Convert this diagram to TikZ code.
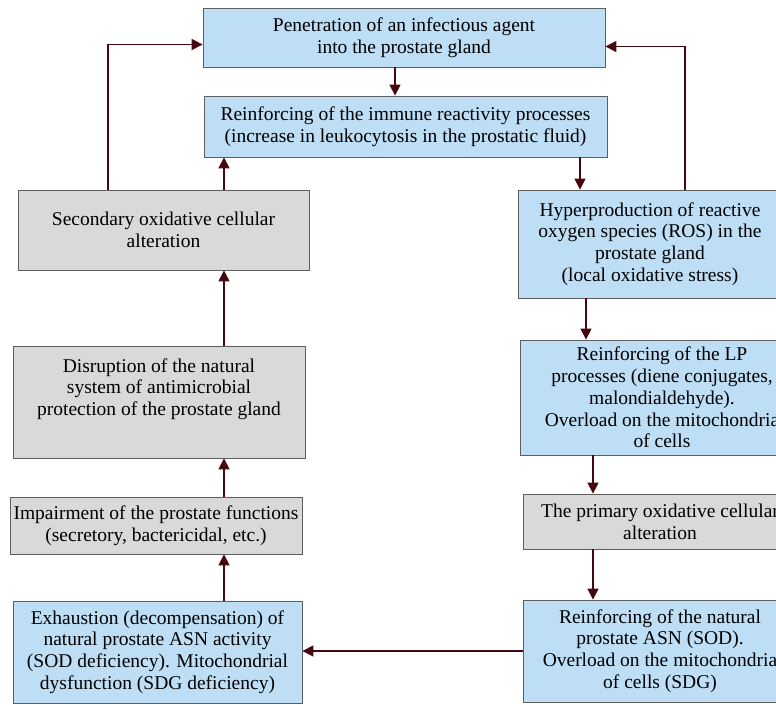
\documentclass[tikz,border=0pt]{standalone}
\usepackage{fontspec}
\setmainfont{Liberation Serif}
\usepackage{tikz}
\usetikzlibrary{arrows.meta,positioning}
\usepackage{xcolor}
\definecolor{pgblue}{RGB}{190,222,245}
\definecolor{pggray}{RGB}{217,217,217}
\definecolor{pgedge}{RGB}{95,95,95}
\definecolor{pgmaroon}{RGB}{70,8,14}
\tikzstyle{arrow} = [line width=1.4pt,-{Triangle[length=11pt,width=11pt]},color=pgmaroon]
\tikzstyle{bluebox} = [draw=pgedge,line width=0.8pt,fill=pgblue,align=center,inner sep=2pt,font=\fontsize{19.5}{21.8}\selectfont]
\tikzstyle{graybox} = [bluebox,fill=pggray]

\begin{document}
\begin{tikzpicture}[x=1pt,y=-1pt]
\useasboundingbox (0,0) rectangle (776,704);
\clip (0,0) rectangle (776,704);

% Top boxes
\node[bluebox, minimum width=402pt, minimum height=59pt] (pen) at (404,37.5) {Penetration of an infectious agent\\into the prostate gland};
\node[bluebox, minimum width=403pt, minimum height=61pt] (imm) at (405.5,126.5) {Reinforcing of the immune reactivity processes\\(increase in leukocytosis in the prostatic fluid)};

% Left column
\node[graybox, minimum width=291pt, minimum height=80pt] (sec) at (163.5,230) {Secondary oxidative cellular\\alteration};
\node[graybox, minimum width=292pt, minimum height=112pt] (dis) at (159,402) {Disruption of the natural\\system of antimicrobial\\protection of the prostate gland\\[8pt]};
\node[graybox, minimum width=292pt, minimum height=57pt] (imp) at (156,525.5) {Impairment of the prostate functions\\(secretory, bactericidal, etc.)};
\node[bluebox, minimum width=289pt, minimum height=102pt] (exh) at (157.5,652) {Exhaustion (decompensation) of\\natural prostate ASN activity\\(SOD deficiency). Mitochondrial\\dysfunction (SDG deficiency)};

% Right column (cut off at the right edge)
\node[bluebox, minimum width=264pt, minimum height=108pt] (hyp) at (650,244) {Hyperproduction of reactive\\oxygen species (ROS) in the\\prostate gland\\(local oxidative stress)};
\node[bluebox, minimum width=284pt, minimum height=115pt] (lp) at (662,397.5) {Reinforcing of the LP\\processes (diene conjugates,\\malondialdehyde).\\Overload on the mitochondria\\of cells};
\node[graybox, minimum width=274pt, minimum height=55pt] (pri) at (660,521.5) {The primary oxidative cellular\\alteration};
\node[bluebox, minimum width=274pt, minimum height=102pt] (asn) at (660,651) {Reinforcing of the natural\\prostate ASN (SOD).\\Overload on the mitochondria\\of cells (SDG)};

% Spines
\coordinate (xmid) at (395,0);
\coordinate (xleft) at (224,0);
\coordinate (xloopl) at (108,0);
\coordinate (xloopr) at (685,0);
\coordinate (xdown) at (580,0);
\coordinate (xhyp) at (586,0);
\coordinate (xlp) at (593,0);

% Connectors
\draw[arrow] (pen.south -| xmid) -- (imm.north -| xmid);
\draw[arrow] (imm.south -| xdown) -- (hyp.north -| xdown);
\draw[arrow] (hyp.north -| xloopr) |- ([yshift=-9pt]pen.east);
\draw[arrow] (sec.north -| xloopl) |- ([yshift=-7pt]pen.west);
\draw[arrow] (sec.north -| xleft) -- (imm.south -| xleft);
\draw[arrow] (dis.north -| xleft) -- (sec.south -| xleft);
\draw[arrow] (imp.north -| xleft) -- (dis.south -| xleft);
\draw[arrow] (exh.north -| xleft) -- (imp.south -| xleft);
\draw[arrow] (hyp.south -| xhyp) -- (lp.north -| xhyp);
\draw[arrow] (lp.south -| xlp) -- (pri.north -| xlp);
\draw[arrow] (pri.south -| xlp) -- (asn.north -| xlp);
\draw[arrow] (asn.west) -- (exh.east |- asn.west);
\end{tikzpicture}
\end{document}
